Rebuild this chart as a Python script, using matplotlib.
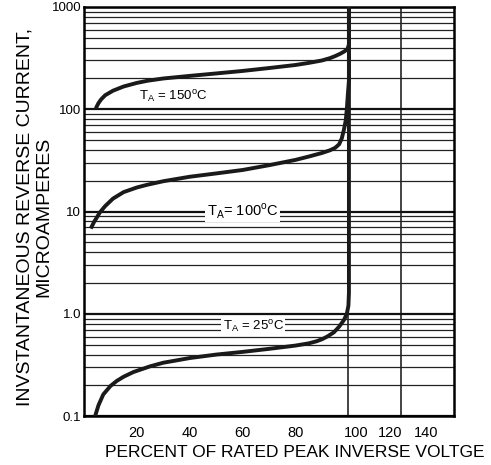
import matplotlib
matplotlib.use("Agg")
import matplotlib.pyplot as plt
from matplotlib.ticker import LogLocator, NullFormatter, FixedLocator

plt.rcParams['font.family'] = ['Liberation Sans', 'DejaVu Sans']
plt.rcParams['mathtext.fontset'] = 'custom'
plt.rcParams['mathtext.rm'] = 'Liberation Sans'

# curves (percent of rated PIV, microamps)
x_150 = [4.8, 5.5, 6.5, 8, 11, 15, 20, 24, 30, 40, 50, 60, 70, 80, 85, 90,
         93, 95, 97, 98.5, 99.7, 100.2, 100.2]
i_150 = [106, 115, 125, 137, 152, 167, 181, 190, 200, 212, 224, 237, 253, 271, 284, 300,
         316, 331, 350, 368, 390, 430, 1000]

x_100 = [2.9, 3.8, 4.8, 6, 8, 11, 15, 20, 24, 30, 40, 50, 60, 70, 80, 85, 90,
         93, 95, 96.5, 97.5, 98.3, 99, 99.4, 99.8, 100.2, 100.2]
i_100 = [7.1, 7.9, 8.7, 9.8, 11.3, 13.4, 15.5, 17.2, 18.3, 19.8, 21.9, 23.6, 25.5, 28.4, 32, 34.5, 37.4,
         39.7, 42, 45.5, 52, 63, 78, 100, 140, 190, 1000]

x_25 = [4.2, 5.5, 7.3, 10, 12.4, 15, 18.7, 25, 30, 40, 50, 60, 70, 80, 85, 88,
        90, 92, 94.5, 96.5, 98.3, 99.4, 100, 100.2, 100.2]
i_25 = [0.1, 0.128, 0.163, 0.197, 0.221, 0.243, 0.27, 0.307, 0.333, 0.37, 0.40, 0.425, 0.455, 0.49, 0.515, 0.54,
        0.565, 0.6, 0.66, 0.75, 0.87, 1.0, 1.2, 1.6, 1000]

grid_x = [20, 40, 60, 80, 100, 120]
xtick_pos = [20, 40, 60, 80, 102.8, 115.7, 129.4]
xtick_labels = ['20', '40', '60', '80', '100', '120', '140']
ytick_vals = [0.1, 1, 10, 100, 1000]
ytick_labels = ['0.1', '1.0', '10', '100', '1000']

fig = plt.figure(figsize=(4.91, 4.65), dpi=100)
ax = fig.add_axes([0.171, 0.105, 0.754, 0.880])

ax.set_yscale('log')
ax.set_xlim(0, 140)
ax.set_ylim(0.1, 1000)

# grid
ax.yaxis.set_minor_locator(LogLocator(base=10, subs=range(2, 10)))
ax.yaxis.set_minor_formatter(NullFormatter())
ax.set_yticks(ytick_vals, ytick_labels)
ax.xaxis.set_minor_locator(FixedLocator(grid_x))
ax.set_xticks(xtick_pos, xtick_labels)
ax.grid(False)
ax.grid(True, which='major', axis='y', color='#111111', lw=1.6)
ax.grid(True, which='minor', axis='y', color='#222222', lw=0.9)
ax.grid(True, which='minor', axis='x', color='#111111', lw=1.1)
ax.tick_params(which='both', length=0)
ax.tick_params(axis='y', labelsize=9.5, pad=2)
ax.tick_params(axis='x', labelsize=10.5, pad=7)

for s in ax.spines.values():
    s.set_linewidth(1.8)

for xs, ys in [(x_150, i_150), (x_100, i_100), (x_25, i_25)]:
    ax.plot(xs, ys, color='#1a1a1a', lw=2.8, solid_joinstyle='round', zorder=3)

box = dict(facecolor='white', edgecolor='none', pad=1)
ax.text(21, 132, r'T$_{\rm A}$ = 150$^{\rm o}$C', fontsize=9.5, va='center', ha='left', bbox=box, zorder=4)
ax.text(46.5, 10.1, r'T$_{\rm A}$= 100$^{\rm o}$C', fontsize=10.5, va='center', ha='left', bbox=box, zorder=4)
ax.text(52.4, 0.745, r'T$_{\rm A}$ = 25$^{\rm o}$C', fontsize=9.5, va='center', ha='left', bbox=box, zorder=4)

ax.set_xlabel('PERCENT OF RATED PEAK INVERSE VOLTGE', fontsize=12.5)
ax.xaxis.set_label_coords(0.569, -0.071)
ax.set_ylabel('INVSTANTANEOUS REVERSE CURRENT,\nMICROAMPERES', fontsize=14, linespacing=1.1)
ax.yaxis.set_label_coords(-0.086, 0.487)

fig.savefig('out.png', dpi=100)
